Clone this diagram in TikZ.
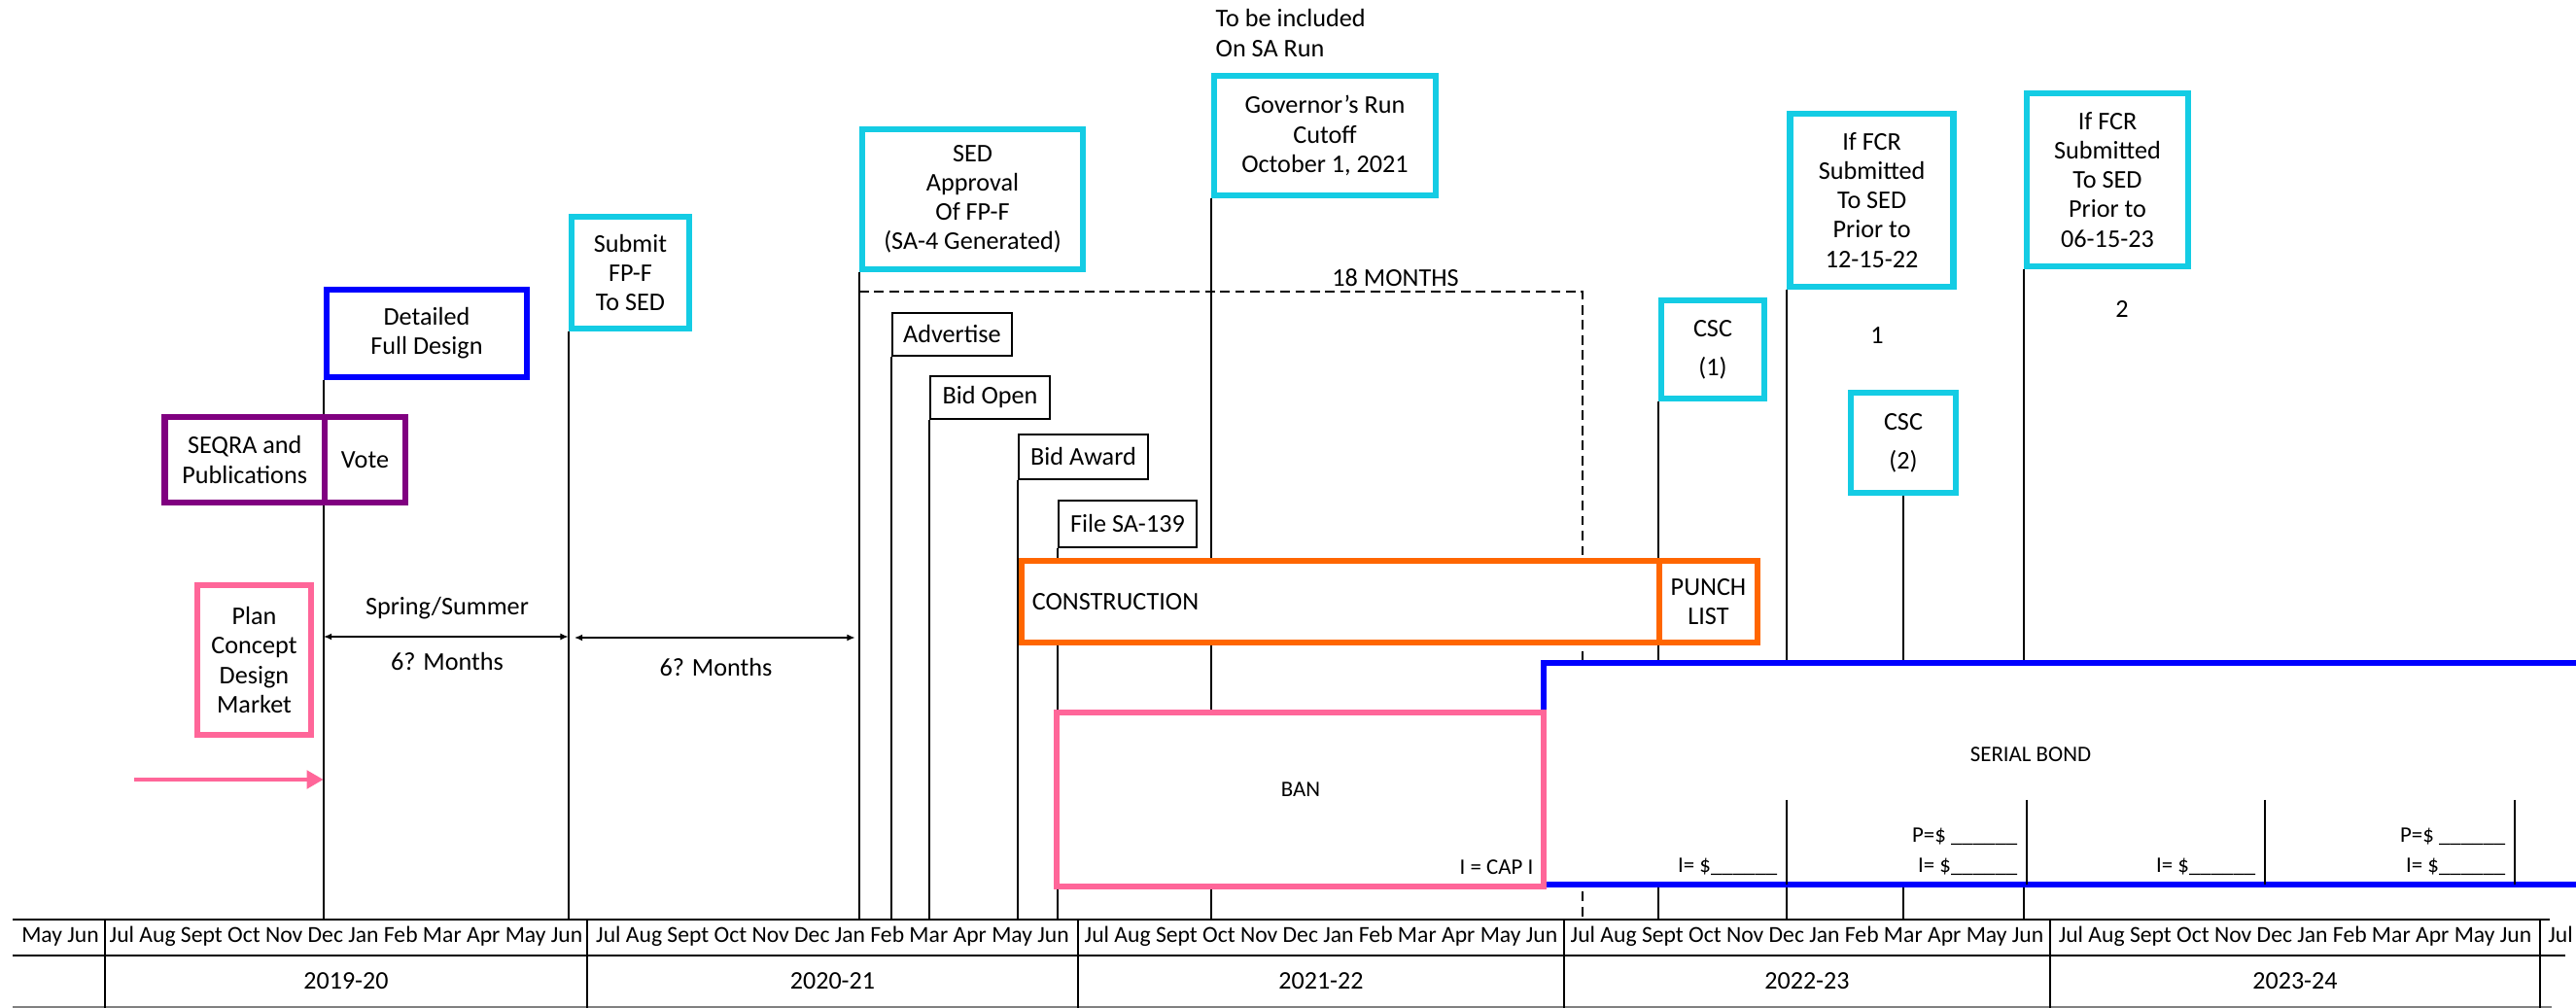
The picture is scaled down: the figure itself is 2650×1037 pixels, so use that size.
\documentclass[tikz,border=0pt]{standalone}
\usepackage{fontspec}
\setmainfont{Carlito}
\usetikzlibrary{arrows.meta,backgrounds}

\definecolor{sedcyan}{RGB}{20,204,228}
\definecolor{dsgnblue}{RGB}{0,0,255}
\definecolor{votepurple}{RGB}{128,0,128}
\definecolor{planpink}{RGB}{255,102,153}
\definecolor{buildorange}{RGB}{255,102,0}

\newcommand{\boxfont}{\fontsize{7.45}{8.55}\selectfont}
\newcommand{\notefont}{\fontsize{7.45}{8.8}\selectfont}
\newcommand{\cscfont}{\fontsize{7.45}{11.4}\selectfont}
\newcommand{\monthfont}{\fontsize{6.72}{8}\selectfont}
\newcommand{\yearfont}{\fontsize{7.4}{8.5}\selectfont}
\newcommand{\cellfont}{\fontsize{6.5}{7.5}\selectfont}
\newcommand{\amtline}{\_\_\_\_\_\_}

\tikzset{
  thickbox/.style={draw, line width=1.8pt, fill=white, inner sep=0pt, align=center, font=\boxfont},
  cyanbox/.style={thickbox, draw=sedcyan},
  bluebox/.style={thickbox, draw=dsgnblue},
  purplebox/.style={thickbox, draw=votepurple},
  pinkbox/.style={thickbox, draw=planpink},
  orangebox/.style={thickbox, draw=buildorange},
  tagbox/.style={draw, line width=0.6pt, fill=white, inner sep=0pt, font=\boxfont},
  evline/.style={line width=0.6pt},
  monthsline/.style={line width=0.6pt, dash pattern=on 2.8pt off 1.6pt},
  tabline/.style={line width=0.8pt},
  spanarrow/.style={line width=0.6pt, {Latex[length=2.4pt,width=2pt]}-{Latex[length=2.4pt,width=2pt]}},
  pinkarrow/.style={draw=planpink, line width=1.3pt, -{Triangle[length=4.9pt,width=5.2pt]}},
  lbl/.style={font=\boxfont},
  celltext/.style={font=\cellfont, inner sep=0pt},
  monthtext/.style={font=\monthfont, anchor=base},
  yeartext/.style={font=\yearfont, anchor=base}
}

\begin{document}
\begin{tikzpicture}[x=0.01cm, y=-0.01cm]
\useasboundingbox (0,0) rectangle (2650,1037);

% fixed points
\coordinate (tl) at (0,946);
\coordinate (mtop) at (1628,300);
\coordinate (arr1) at (0,655);
\coordinate (arr2) at (0,656);
\coordinate (pstart) at (138,802);

% planning
\node[bluebox, minimum width=2.06cm, minimum height=0.90cm] (det) at (439,343) {Detailed\\Full Design};
\node[purplebox, minimum width=1.645cm, minimum height=0.88cm] (seqra) at (251.75,473) {SEQRA and\\Publications};
\node[purplebox, minimum width=0.83cm, minimum height=0.88cm] (vote) at (375.5,473) {Vote};
\node[pinkbox, minimum width=1.17cm, minimum height=1.535cm] (plan) at (261.5,679) {Plan\\Concept\\Design\\Market};

% SED steps
\node[cyanbox, minimum width=1.21cm, minimum height=1.15cm] (submit) at (648.5,280.5) {Submit\\FP-F\\To SED};
\node[cyanbox, minimum width=2.27cm, minimum height=1.44cm] (sed) at (1000.5,205) {SED\\Approval\\Of FP-F\\(SA-4 Generated)};
\node[cyanbox, minimum width=2.28cm, minimum height=1.23cm] (gov) at (1363,139.5) {Governor’s Run\\Cutoff\\October 1, 2021};
\node[cyanbox, minimum width=1.06cm, minimum height=1.01cm, font=\cscfont] (csc1) at (1762,359.5) {CSC\\(1)};
\node[cyanbox, minimum width=1.68cm, minimum height=1.78cm] (fcr1) at (1925.6,206) {If FCR\\Submitted\\To SED\\Prior to\\12-15-22};
\node[cyanbox, minimum width=1.084cm, minimum height=1.03cm, font=\cscfont] (csc2) at (1958,455.5) {CSC\\(2)};
\node[cyanbox, minimum width=1.66cm, minimum height=1.78cm] (fcr2) at (2168,185) {If FCR\\Submitted\\To SED\\Prior to\\06-15-23};

% bidding
\node[tagbox, minimum width=1.227cm, minimum height=0.44cm] (adv) at (979.4,344) {Advertise};
\node[tagbox, minimum width=1.23cm, minimum height=0.443cm] (bidopen) at (1018.5,409) {Bid Open};
\node[tagbox, minimum width=1.33cm, minimum height=0.466cm] (bidaward) at (1114.5,470) {Bid Award};
\node[tagbox, minimum width=1.417cm, minimum height=0.473cm] (filesa) at (1160,539) {File SA-139};

% construction
\node[orangebox, minimum height=0.84cm, text width=6.34cm, inner xsep=0.11cm, align=left] (constr) at (1379,619) {CONSTRUCTION};
\node[orangebox, minimum width=1.01cm, minimum height=0.84cm] (punch) at (1757.5,619) {PUNCH\\LIST};

% financing
\node[bluebox, minimum width=11.12cm, minimum height=2.28cm] (bond) at (2144,796) {};
\node[pinkbox, minimum width=5.01cm, minimum height=1.79cm] (ban) at (1337.5,822.5) {};
\node[celltext] (bondtxt) at (2089,776) {SERIAL BOND};
\node[celltext] (bantxt) at (1338,812) {BAN};
\node[celltext, anchor=base east] (capi) at (1578,900) {I = CAP I};
\foreach \x in {1838,2085,2330,2587}
  \draw[evline] (\x,823) -- (\x,910);
\foreach \x/\nm in {1829/int1, 2076/int2, 2321/int3, 2578/int4}
  \node[celltext, anchor=base east] (\nm) at (\x,898) {I= \$\amtline};
\foreach \x/\nm in {2076/prn2, 2578/prn4}
  \node[celltext, anchor=base east] (\nm) at (\x,867) {P=\$ \amtline};

% texts
\node[lbl] (spring) at (460,626) {Spring/Summer};
\node[lbl] (six1) at (460,681) {6? Months};
\node[lbl] (six2) at (736.5,687) {6? Months};
\node[lbl] (m18) at (1435.5,286) {18 MONTHS};
\node[lbl] (fcrone) at (1931,345) {1};
\node[lbl] (fcrtwo) at (2183,318) {2};
\node[font=\notefont, align=left, anchor=north west, inner sep=0pt] (sarun) at (1250,9) {To be included\\On SA Run};

% event lines
\begin{scope}[on background layer]
  \draw[evline] (det.south west) -- (det.south west |- tl);
  \draw[evline] (submit.south west) -- (submit.south west |- tl);
  \draw[evline] (sed.south west) -- (sed.south west |- tl);
  \draw[evline] (gov.south west) -- (gov.south west |- tl);
  \draw[evline] (adv.south west) -- (adv.south west |- tl);
  \draw[evline] (bidopen.south west) -- (bidopen.south west |- tl);
  \draw[evline] (bidaward.south west) -- (bidaward.south west |- tl);
  \draw[evline] (filesa.south west) -- (filesa.south west |- tl);
  \draw[evline] (csc1.south west) -- (csc1.south west |- tl);
  \draw[evline] (fcr1.south west) -- (fcr1.south west |- tl);
  \draw[evline] (csc2.south) -- (csc2.south |- tl);
  \draw[evline] (fcr2.south west) -- (fcr2.south west |- tl);
  \draw[monthsline] (sed.south west |- mtop) -- (mtop) -- (mtop |- tl);
\end{scope}

% arrows
\draw[pinkarrow] (pstart) -- (pstart -| det.south west);
\draw[spanarrow] (det.south west |- arr1) -- (submit.south west |- arr1);
\draw[spanarrow, shorten <=0.06cm, shorten >=0.04cm] (submit.south west |- arr2) -- (sed.south west |- arr2);

% fiscal years
\draw[tabline] (13,946) -- (2623,946);
\draw[tabline] (13,983) -- (2639,983);
\draw[tabline, draw=gray] (13,1036) -- (2625,1036);
\foreach \x in {108,604,1109,1609,2109,2613}
  \draw[tabline] (\x,946) -- (\x,1037);
\node[monthtext] (mon0) at (62,970) {May Jun};
\foreach \x/\yr [count=\i] in {356/2019-20, 856.5/2020-21, 1359/2021-22, 1859/2022-23, 2361/2023-24} {
  \node[monthtext] (mon\i) at (\x,970) {Jul Aug Sept Oct Nov Dec Jan Feb Mar Apr May Jun};
  \node[yeartext] (yr\i) at (\x,1018) {\yr};
}
\node[monthtext] (mon6) at (2634,970) {Jul};

\end{tikzpicture}
\end{document}
